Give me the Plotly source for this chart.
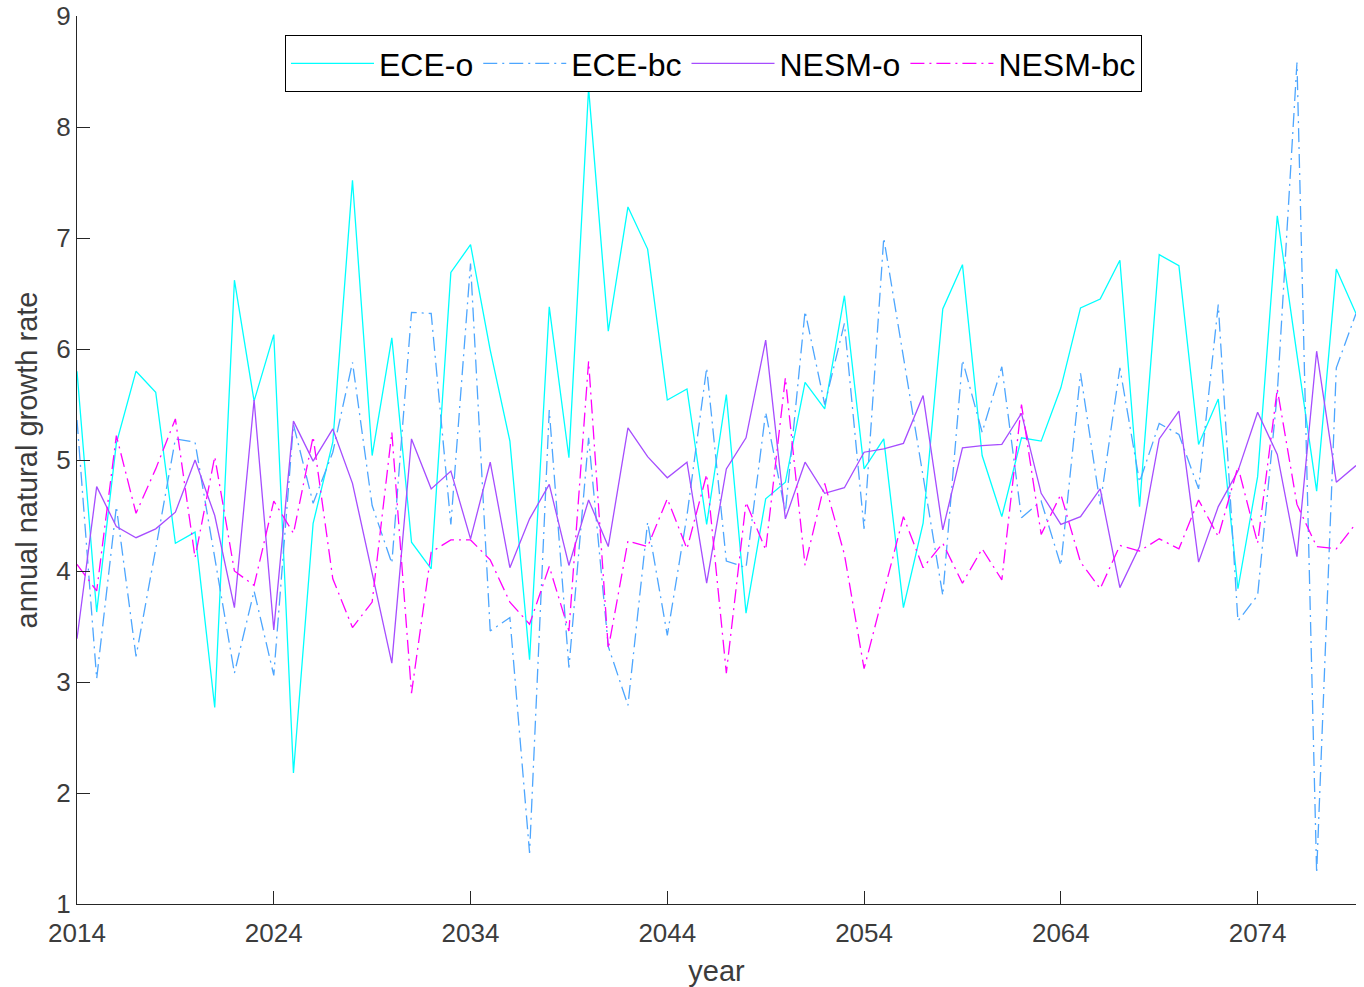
import plotly.graph_objects as go

# Annual natural growth rate per model run, 2014-2079
years = list(range(2014, 2080))

ece_o = [
    5.80, 3.63, 5.15, 5.80, 5.61, 4.25, 4.35, 2.77, 6.62, 5.53,
    6.13, 2.18, 4.43, 5.16, 7.52, 5.04, 6.10, 4.26, 4.02, 6.69,
    6.94, 5.99, 5.17, 3.20, 6.38, 5.02, 8.35, 6.16, 7.28, 6.90,
    5.54, 5.64, 4.42, 5.59, 3.62, 4.65, 4.80, 5.70, 5.46, 6.48,
    4.92, 5.19, 3.67, 4.43, 6.36, 6.76, 5.04, 4.49, 5.20, 5.17,
    5.65, 6.37, 6.45, 6.80, 4.58, 6.85, 6.75, 5.14, 5.55, 3.84,
    4.85, 7.20, 5.95, 4.72, 6.72, 6.32,
]

ece_bc = [
    5.36, 3.03, 4.58, 3.23, 4.20, 5.19, 5.16, 4.12, 3.08, 3.82,
    3.06, 5.32, 4.61, 5.07, 5.88, 4.59, 4.07, 6.33, 6.32, 4.42,
    6.77, 3.46, 3.58, 1.46, 5.45, 3.13, 5.20, 3.32, 2.79, 4.44,
    3.42, 4.50, 5.83, 4.09, 4.03, 5.43, 4.53, 6.34, 5.50, 6.23,
    4.38, 7.00, 5.93, 4.82, 3.78, 5.90, 5.25, 5.84, 4.48, 4.63,
    4.05, 5.78, 4.60, 5.83, 4.80, 5.33, 5.23, 4.74, 6.40, 3.55,
    3.78, 5.60, 8.58, 1.28, 5.83, 6.32,
]

nesm_o = [
    3.39, 4.76, 4.40, 4.30, 4.38, 4.53, 5.00, 4.50, 3.67, 5.54,
    3.47, 5.35, 4.99, 5.28, 4.79, 3.99, 3.17, 5.19, 4.74, 4.90,
    4.29, 4.98, 4.03, 4.47, 4.78, 4.05, 4.64, 4.22, 5.29, 5.03,
    4.84, 4.98, 3.89, 4.92, 5.20, 6.08, 4.47, 4.98, 4.70, 4.75,
    5.07, 5.10, 5.15, 5.58, 4.37, 5.11, 5.13, 5.14, 5.42, 4.70,
    4.42, 4.49, 4.74, 3.85, 4.22, 5.19, 5.44, 4.08, 4.58, 4.90,
    5.43, 5.05, 4.13, 5.98, 4.80, 4.95,
]

nesm_bc = [
    4.06, 3.82, 5.22, 4.52, 4.92, 5.37, 4.12, 5.03, 4.00, 3.87,
    4.63, 4.34, 5.21, 3.93, 3.49, 3.72, 5.25, 2.90, 4.17, 4.28,
    4.28, 4.10, 3.72, 3.52, 4.04, 3.46, 5.89, 3.30, 4.27, 4.22,
    4.65, 4.20, 4.87, 3.08, 4.62, 4.19, 5.74, 4.05, 4.79, 4.15,
    3.12, 3.80, 4.49, 4.03, 4.25, 3.89, 4.20, 3.92, 5.50, 4.33,
    4.69, 4.08, 3.84, 4.23, 4.18, 4.29, 4.20, 4.64, 4.31, 4.94,
    4.25, 5.64, 4.60, 4.22, 4.20, 4.43,
]

x_tick_vals = [2014, 2024, 2034, 2044, 2054, 2064, 2074]
y_tick_vals = [1, 2, 3, 4, 5, 6, 7, 8, 9]

AXIS_COLOR = "#262626"
TEXT_COLOR = "#3c3c3c"
FONT = "Liberation Sans, Arial, Helvetica, sans-serif"
DASHDOT = "14px,5px,2px,5px"

series = [
    ("ECE-o", ece_o, "#00FFFF", "solid"),
    ("ECE-bc", ece_bc, "#4DA6FF", DASHDOT),
    ("NESM-o", nesm_o, "#A64DFF", "solid"),
    ("NESM-bc", nesm_bc, "#FF00FF", DASHDOT),
]

fig = go.Figure()
for name, values, color, dash in series:
    fig.add_trace(go.Scatter(
        x=years, y=values, name=name, mode="lines",
        line=dict(color=color, width=1.3, dash=dash),
    ))

W, H = 1364, 987
L, R, T, B = 77, 8, 16, 83
plot_w = W - L - R
plot_h = H - T - B

fig.update_layout(
    width=W, height=H,
    margin=dict(l=L, r=R, t=T, b=B, pad=0, autoexpand=False),
    paper_bgcolor="white", plot_bgcolor="white",
    font=dict(family=FONT, color=TEXT_COLOR, size=26),
    showlegend=True,
    legend=dict(
        orientation="h",
        x=(285 - L) / plot_w, y=(H - B - 35) / plot_h,
        xanchor="left", yanchor="top",
        bgcolor="white", bordercolor="#000000", borderwidth=1,
        font=dict(size=32, color="#000000"),
        itemwidth=83,
    ),
)

fig.update_xaxes(
    range=[2014, 2079], tickvals=x_tick_vals, automargin=False,
    showline=True, linecolor=AXIS_COLOR, linewidth=1.3,
    ticks="inside", ticklen=13, tickwidth=1.3, tickcolor=AXIS_COLOR,
    showgrid=False, zeroline=False, ticklabelstandoff=6,
    tickfont=dict(size=26, color=TEXT_COLOR),
    title=dict(text="year", font=dict(size=29, color=TEXT_COLOR), standoff=20),
)
fig.update_yaxes(
    range=[1, 9], tickvals=y_tick_vals, automargin=False,
    showline=True, linecolor=AXIS_COLOR, linewidth=1.3,
    ticks="inside", ticklen=13, tickwidth=1.3, tickcolor=AXIS_COLOR,
    showgrid=False, zeroline=False,
    tickfont=dict(size=26, color=TEXT_COLOR),
    title=dict(text="annual natural growth rate", font=dict(size=29, color=TEXT_COLOR), standoff=10),
)

fig.write_html("out.html")
